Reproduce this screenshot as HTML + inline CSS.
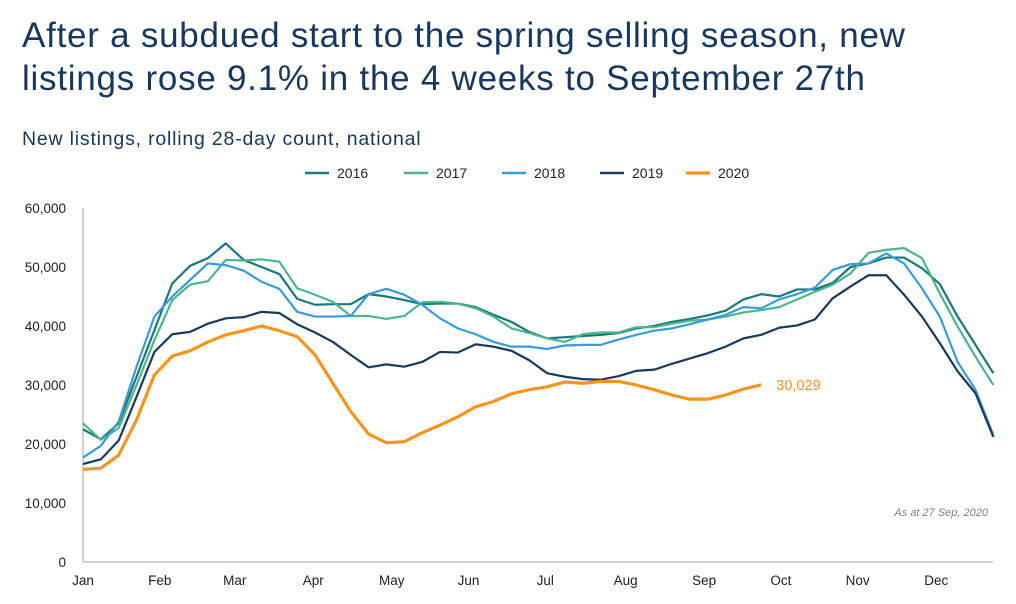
<!DOCTYPE html>
<html><head><meta charset="utf-8"><style>
body{margin:0;width:1016px;height:604px;background:#fff;overflow:hidden;font-family:"Liberation Sans",sans-serif}
h1{position:absolute;left:22px;top:14px;margin:0;font-weight:normal;font-size:35px;letter-spacing:0.75px;line-height:43px;color:#17375e}
.sub{position:absolute;left:22px;top:128px;font-size:19.5px;letter-spacing:0.8px;color:#17375e}
svg{position:absolute;left:0;top:0}
</style></head><body>
<h1>After a subdued start to the spring selling season, new<br>listings rose 9.1% in the 4 weeks to September 27th</h1>
<div class="sub">New listings, rolling 28-day count, national</div>
<svg id="chart" width="1016" height="604"></svg>
<script>
const years=["2016","2017","2018","2019","2020"];
const colors=["#18797c","#4db58c","#3b9ad8","#1a3a5c","#f7941d"];
const s2016=[22.5,20.8,23.5,31.4,39.3,47.2,50.2,51.5,54.0,51.2,50.0,48.8,44.6,43.6,43.7,43.7,45.4,45.0,44.4,43.7,43.8,43.8,43.2,41.9,40.7,39.0,37.9,38.1,38.3,38.5,38.8,39.6,40.0,40.7,41.2,41.8,42.6,44.5,45.4,45.0,46.2,46.2,47.3,50.0,50.6,51.6,51.6,49.8,47.1,41.6,36.8,32.0];
const s2017=[23.5,20.7,22.7,30.0,37.6,44.4,47.0,47.6,51.2,51.1,51.3,50.9,46.4,45.3,44.1,41.7,41.7,41.2,41.7,44.0,44.1,43.8,43.0,41.6,39.6,38.8,37.9,37.3,38.6,38.9,38.9,39.8,39.8,40.4,40.9,41.1,41.6,42.3,42.7,43.2,44.5,45.8,47.0,48.9,52.4,52.9,53.2,51.5,45.5,39.9,34.8,30.0];
const s2018=[17.7,19.7,23.8,33.1,41.6,45.0,47.8,50.6,50.3,49.4,47.5,46.3,42.4,41.6,41.6,41.7,45.4,46.3,45.3,43.6,41.3,39.6,38.6,37.3,36.5,36.5,36.1,36.7,36.8,36.8,37.7,38.5,39.2,39.6,40.3,41.1,41.9,43.2,43.0,44.5,45.4,46.5,49.5,50.5,50.6,52.3,50.6,46.4,41.6,33.9,29.2,21.5];
const s2019=[16.6,17.4,20.6,28.0,35.6,38.6,39.0,40.4,41.3,41.5,42.4,42.2,40.3,38.9,37.3,35.1,33.0,33.5,33.1,33.9,35.6,35.5,36.9,36.5,35.8,34.2,32.0,31.4,31.0,30.9,31.5,32.4,32.6,33.6,34.5,35.4,36.5,37.9,38.5,39.7,40.1,41.1,44.7,46.7,48.6,48.6,45.3,41.6,37.1,32.3,28.6,21.2];
const s2020=[15.7,15.9,18.1,24.1,31.7,34.9,35.8,37.3,38.5,39.2,40.0,39.2,38.2,35.1,30.3,25.5,21.7,20.2,20.4,21.9,23.2,24.6,26.3,27.2,28.5,29.2,29.7,30.5,30.3,30.6,30.6,30.0,29.2,28.3,27.6,27.6,28.3,29.3,30.029];
const series=[s2016,s2017,s2018,s2019,s2020];
const months=["Jan","Feb","Mar","Apr","May","Jun","Jul","Aug","Sep","Oct","Nov","Dec"];
const monthPos=[0,4.3,8.5,12.9,17.3,21.6,25.9,30.4,34.8,39.1,43.4,47.8];
const yTicks=[0,10000,20000,30000,40000,50000,60000];
const NS="http://www.w3.org/2000/svg",svg=document.getElementById('chart');
const x=i=>83+17.85*i, y=v=>562-v*5.9/1000;
function mk(t,a,p){const e=document.createElementNS(NS,t);for(const k in a)e.setAttribute(k,a[k]);(p||svg).appendChild(e);return e;}
let ax=mk('line',{x1:83,y1:y(60000),x2:83,y2:562,stroke:'#a6a6a6','stroke-width':1});


let bx=mk('line',{x1:83,y1:562,x2:993,y2:562,stroke:'#a6a6a6','stroke-width':1});


yTicks.forEach(v=>{const t=mk('text',{x:66,y:y(v)+5,'text-anchor':'end','font-size':13.5,fill:'#222'});t.textContent=v.toLocaleString('en-US');

});
months.forEach((m,i)=>{const t=mk('text',{x:x(monthPos[i]),y:585,'text-anchor':'middle','font-size':13.5,fill:'#222'});t.textContent=m;

});
series.forEach((s,k)=>{const p=mk('polyline',{points:s.map((v,i)=>x(i)+','+y(v*1000)).join(' '),fill:'none',stroke:colors[k],'stroke-width':k==4?3.2:2.2,'stroke-linejoin':'round'});

});
const last=s2020[s2020.length-1];
const lbl=mk('text',{x:x(s2020.length-1)+15,y:y(last*1000)+5,'font-size':14.5,fill:'#f7941d'});lbl.textContent=Math.round(last*1000).toLocaleString('en-US');


const legX=[305,404,502,600,686];
years.forEach((yr,k)=>{const g=mk('g',{});


mk('line',{x1:legX[k],y1:173,x2:legX[k]+24,y2:173,stroke:colors[k],'stroke-width':k==4?3.2:2.5},g);
const t=mk('text',{x:legX[k]+32,y:178,'font-size':14,fill:'#222'},g);t.textContent=yr;});
const n=mk('text',{x:988,y:516,'text-anchor':'end','font-size':11,'font-style':'italic',fill:'#808080'});n.textContent='As at 27 Sep, 2020';


</script>
</body></html>
